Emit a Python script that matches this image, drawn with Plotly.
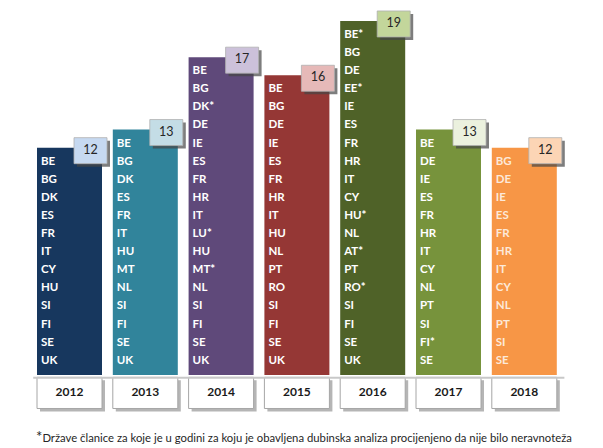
import plotly.graph_objects as go

# ---- data ----
years = ["2012", "2013", "2014", "2015", "2016", "2017", "2018"]
members_2012 = ["BE", "BG", "DK", "ES", "FR", "IT", "CY", "HU", "SI", "FI", "SE", "UK"]
members_2013 = ["BE", "BG", "DK", "ES", "FR", "IT", "HU", "MT", "NL", "SI", "FI", "SE", "UK"]
members_2014 = ["BE", "BG", "DK*", "DE", "IE", "ES", "FR", "HR", "IT", "LU*", "HU", "MT*",
                "NL", "SI", "FI", "SE", "UK"]
members_2015 = ["BE", "BG", "DE", "IE", "ES", "FR", "HR", "IT", "HU", "NL", "PT", "RO",
                "SI", "FI", "SE", "UK"]
members_2016 = ["BE*", "BG", "DE", "EE*", "IE", "ES", "FR", "HR", "IT", "CY", "HU*", "NL",
                "AT*", "PT", "RO*", "SI", "FI", "SE", "UK"]
members_2017 = ["BE", "DE", "IE", "ES", "FR", "HR", "IT", "CY", "NL", "PT", "SI", "FI*", "SE"]
members_2018 = ["BG", "DE", "IE", "ES", "FR", "HR", "IT", "CY", "NL", "PT", "SI", "SE"]
members = [members_2012, members_2013, members_2014, members_2015,
           members_2016, members_2017, members_2018]
footnote = ("Države članice za koje je u godini za koju je obavljena dubinska analiza "
            "procijenjeno da nije bilo neravnoteža")

# ---- styles ----
bar_colors = ["#17375E", "#31849B", "#5F497A", "#953735", "#4F6228", "#77933C", "#F79646"]
badge_colors = ["#C6D9F1", "#C4DDE6", "#CCC1DA", "#E6B9B8", "#C3D69B", "#EBF1DE", "#FCD5B5"]
label_colors = ["#FFFFFF"] * 6 + ["#FDE9D9"]
FONT = "Lato, 'Open Sans', sans-serif"

W, H = 603, 448
ROW_PX = 18.1          # pixels per row of labels
UNIT_PX = 75.8         # pixels between bar centres
X0_PX = 69.5           # pixel x of first bar centre
BASE_PX = 375          # pixel y of bar bottoms
BAR_W = 65 / UNIT_PX
PAD = 0.78
BADGE_W = 33 / UNIT_PX
BADGE_H = 26 / ROW_PX
SH_X = 3 / UNIT_PX
SH_Y = 3 / ROW_PX

counts = [len(m) for m in members]
n = len(years)
idx = list(range(n))
tops = [c - 1 + 2 * PAD for c in counts]

fig = go.Figure()

# gray baseline behind year boxes
fig.add_scatter(x=[-BAR_W / 2 - 0.05, n - 1 + BAR_W / 2 + 0.1], y=[-0.15, -0.15],
                mode="lines", line=dict(color="#C8C8C8", width=2), hoverinfo="skip")

# year box shadows + boxes
box_base = -1.85
box_h = 1.72
fig.add_bar(x=[i + SH_X for i in idx], y=[box_h] * n, base=[box_base - SH_Y] * n,
            width=BAR_W, marker=dict(color="rgba(90,90,90,0.45)", line_width=0),
            hoverinfo="skip")
fig.add_bar(x=idx, y=[box_h] * n, base=[box_base] * n, width=BAR_W,
            marker=dict(color="#FFFFFF", line=dict(color="#A6A6A6", width=1)),
            hoverinfo="skip")

# main bars
fig.add_bar(x=idx, y=tops, base=[0] * n, width=BAR_W,
            marker=dict(color=bar_colors, line_width=0), hoverinfo="skip")

# badges
bx = [i + BAR_W / 2 + 5 / UNIT_PX - BADGE_W / 2 for i in idx]
bbase = [t - 3 / ROW_PX - BADGE_H / 2 for t in tops]
fig.add_bar(x=[v + SH_X for v in bx], y=[BADGE_H] * n, base=[b - SH_Y for b in bbase],
            width=BADGE_W, marker=dict(color="rgba(70,70,70,0.7)", line_width=0),
            hoverinfo="skip")
fig.add_bar(x=bx, y=[BADGE_H] * n, base=bbase, width=BADGE_W,
            marker=dict(color=badge_colors, line=dict(color="#B0B0B0", width=0.8)),
            hoverinfo="skip")
fig.add_scatter(x=bx, y=[b + BADGE_H / 2 for b in bbase], mode="text",
                text=[str(c) for c in counts],
                textfont=dict(family=FONT, size=12.5, color="#262626"), hoverinfo="skip")

# member labels
for i, m in enumerate(members):
    c = len(m)
    fig.add_scatter(x=[i - BAR_W / 2 + 4 / UNIT_PX] * c,
                    y=[PAD + (c - 1 - k) for k in range(c)],
                    mode="text", text=m, textposition="middle right",
                    textfont=dict(family=FONT, size=11.5, color=label_colors[i]),
                    texttemplate="<b>%{text}</b>", hoverinfo="skip")

# year labels
fig.add_scatter(x=idx, y=[box_base + box_h / 2 + 0.02] * n, mode="text",
                text=["<b>" + y + "</b>" for y in years],
                textfont=dict(family=FONT, size=12, color="#1A1A1A"), hoverinfo="skip")

fig.add_annotation(x=304 / W, xref="paper", y=-(436 - BASE_PX) / ROW_PX, yref="y",
                   text='<span style="font-size:15px">*</span>' + footnote,
                   showarrow=False, font=dict(family=FONT, size=11.3, color="#262626"))

fig.update_layout(
    width=W, height=H, autosize=False, showlegend=False, barmode="overlay",
    margin=dict(l=0, r=0, t=0, b=0), paper_bgcolor="white", plot_bgcolor="white",
    xaxis=dict(range=[-X0_PX / UNIT_PX, (W - X0_PX) / UNIT_PX], visible=False, fixedrange=True),
    yaxis=dict(range=[-(H - BASE_PX) / ROW_PX, BASE_PX / ROW_PX], visible=False, fixedrange=True),
    hovermode=False,
)

fig.write_html("out.html", config={"displayModeBar": False},
               post_script="document.body.style.margin='0';document.body.style.overflow='hidden';")
